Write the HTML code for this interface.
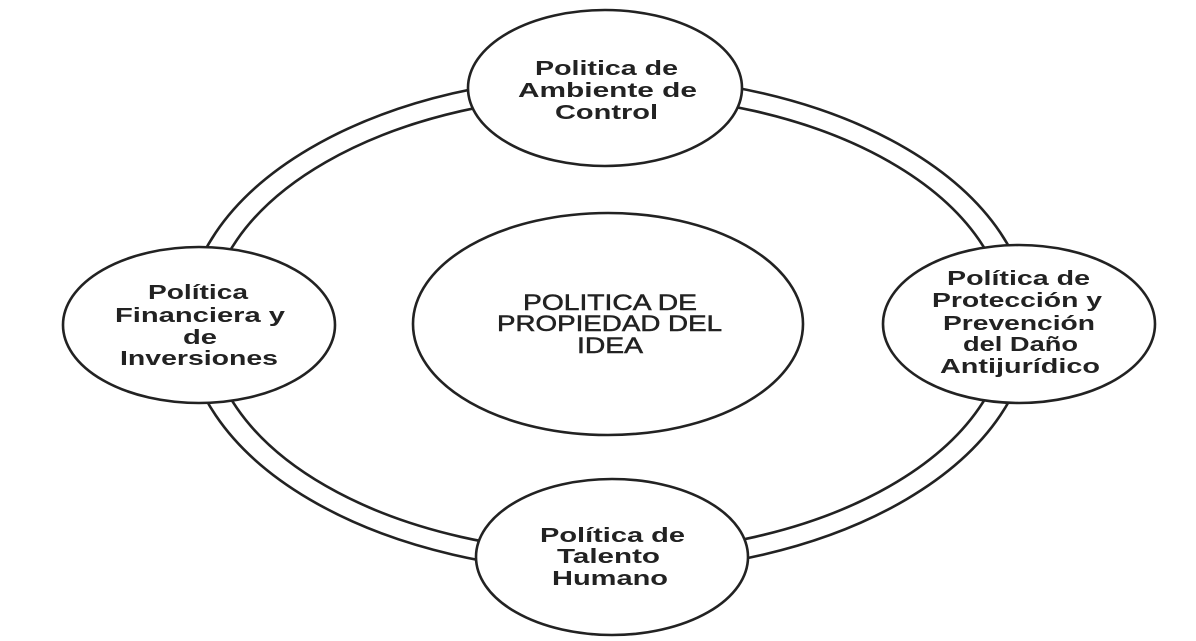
<!DOCTYPE html>
<html><head><meta charset="utf-8"><style>
html,body{margin:0;padding:0;background:#fff;}
svg{display:block;}
text{font-family:"Liberation Sans",sans-serif;font-weight:bold;fill:#222;}
</style></head><body>
<svg width="1196" height="641" viewBox="0 0 1196 641" xmlns="http://www.w3.org/2000/svg">
<g fill="none" stroke="#222" stroke-width="2.6">
<ellipse cx="608" cy="324" rx="422" ry="248"/>
<ellipse cx="608" cy="324" rx="399" ry="229"/>
</g>
<g fill="#fff" stroke="#222" stroke-width="2.6">
<ellipse cx="605" cy="88" rx="137" ry="78"/>
<ellipse cx="199" cy="325" rx="136" ry="78"/>
<ellipse cx="1019" cy="324" rx="136" ry="79"/>
<ellipse cx="612" cy="557" rx="136" ry="78"/>
<ellipse cx="608" cy="324" rx="195" ry="111"/>
</g>
<g font-size="20">
<text x="535" y="75" textLength="143" lengthAdjust="spacingAndGlyphs">Politica de</text>
<text x="518" y="97" textLength="179" lengthAdjust="spacingAndGlyphs">Ambiente de</text>
<text x="555" y="119" textLength="103" lengthAdjust="spacingAndGlyphs">Control</text>

<text x="148" y="299" textLength="100" lengthAdjust="spacingAndGlyphs">Política</text>
<text x="115" y="322" textLength="170" lengthAdjust="spacingAndGlyphs">Financiera y</text>
<text x="183" y="344" textLength="34" lengthAdjust="spacingAndGlyphs">de</text>
<text x="120" y="365" textLength="158" lengthAdjust="spacingAndGlyphs">Inversiones</text>

<text x="947" y="285" textLength="143" lengthAdjust="spacingAndGlyphs">Política de</text>
<text x="932" y="307" textLength="170" lengthAdjust="spacingAndGlyphs">Protección y</text>
<text x="943" y="330" textLength="152" lengthAdjust="spacingAndGlyphs">Prevención</text>
<text x="963" y="351" textLength="115" lengthAdjust="spacingAndGlyphs">del Daño</text>
<text x="940" y="373" textLength="160" lengthAdjust="spacingAndGlyphs">Antijurídico</text>

<text x="540" y="542" textLength="145" lengthAdjust="spacingAndGlyphs">Política de</text>
<text x="557" y="563" textLength="103" lengthAdjust="spacingAndGlyphs">Talento</text>
<text x="552" y="585" textLength="116" lengthAdjust="spacingAndGlyphs">Humano</text>
</g>
<g font-size="22" style="font-weight:normal" stroke="#222" stroke-width="0.5">
<text x="523" y="310" textLength="174" lengthAdjust="spacingAndGlyphs" style="font-weight:normal">POLITICA DE</text>
<text x="497" y="331" textLength="225" lengthAdjust="spacingAndGlyphs" style="font-weight:normal">PROPIEDAD DEL</text>
<text x="577" y="353" textLength="66" lengthAdjust="spacingAndGlyphs" style="font-weight:normal">IDEA</text>
</g>
</svg>
</body></html>
